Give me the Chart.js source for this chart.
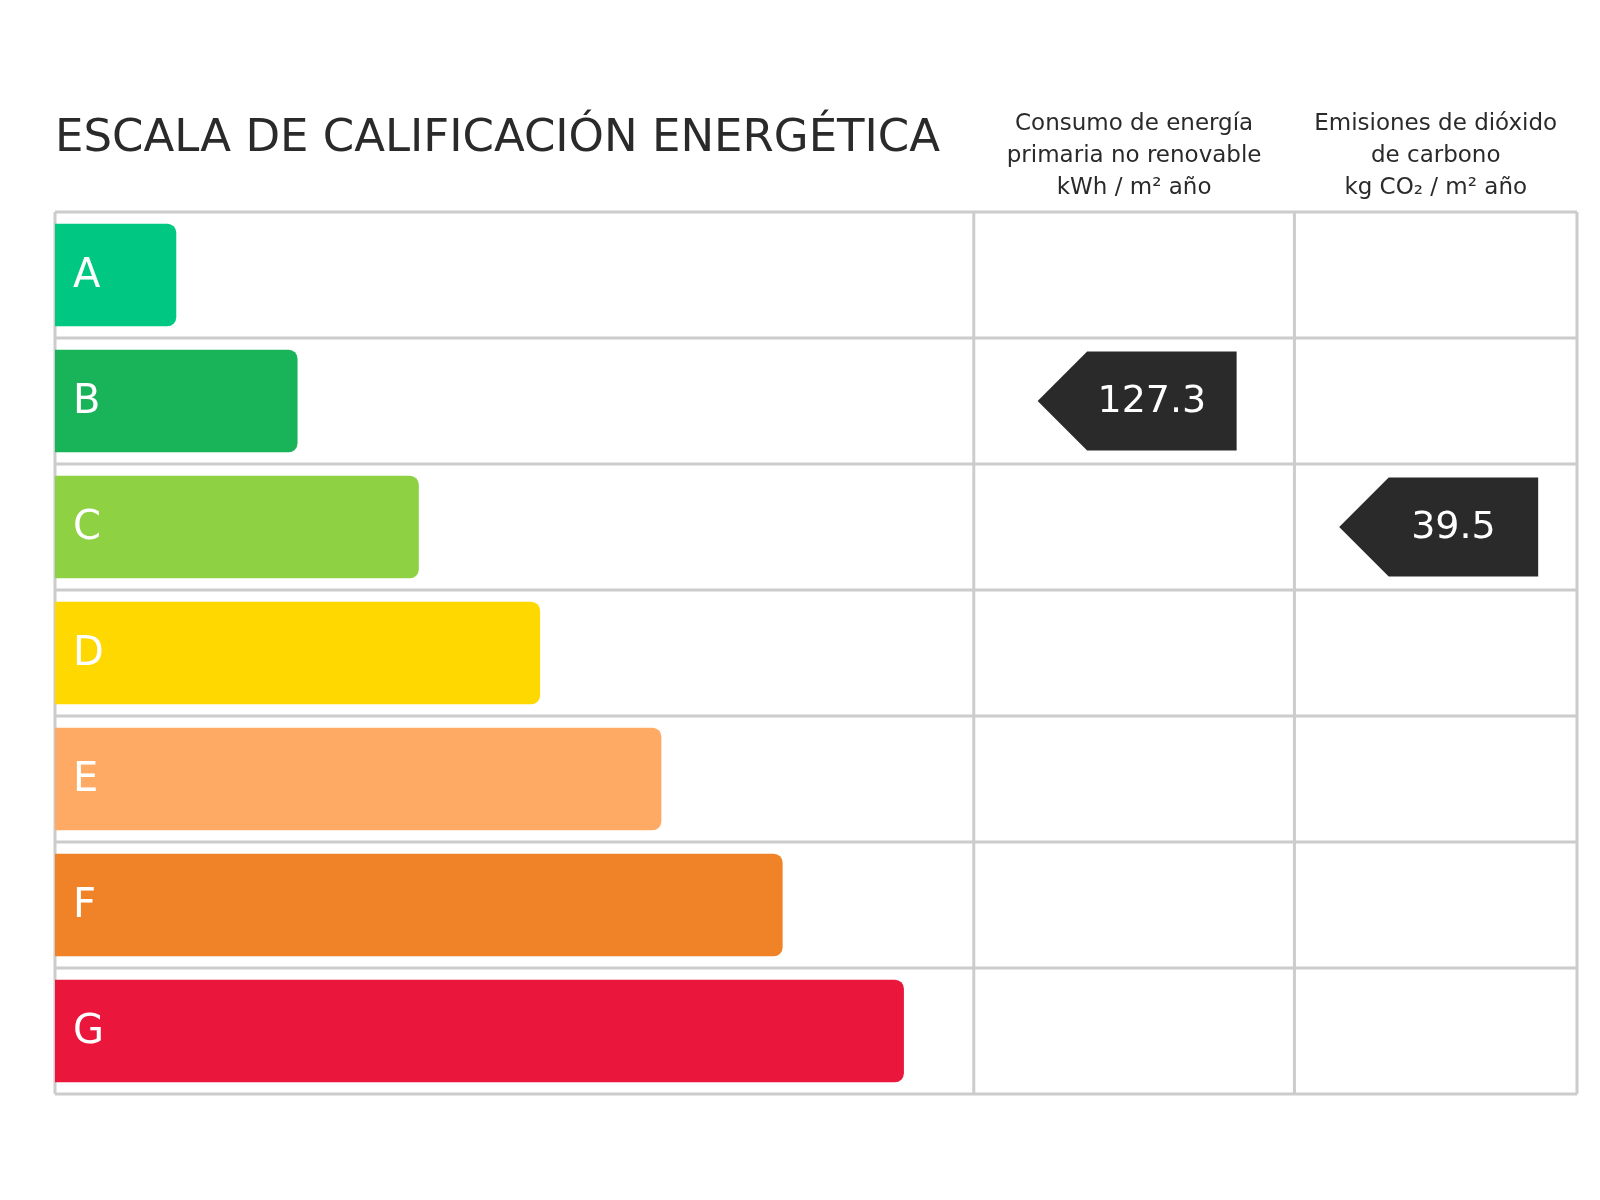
<!DOCTYPE html>
<html lang="es">
<head>
<meta charset="UTF-8">
<title>Escala de calificación energética</title>
<script src="https://cdn.jsdelivr.net/npm/chart.js"></script>
<style>
  body { margin: 0; background: #fff; }
  canvas { display: block; }
</style>
</head>
<body>
<canvas id="chart" width="1600" height="1200"></canvas>
<script>
// datos
const classes = ['A', 'B', 'C', 'D', 'E', 'F', 'G'];
const barLengths = [1, 2, 3, 4, 5, 6, 7];
const barColors = ['#00c882', '#19b45a', '#8ed244', '#ffd800', '#ffaa64', '#f08228', '#eb163c'];
const title = 'ESCALA DE CALIFICACIÓN ENERGÉTICA';
const colHeaders = [
  ['Consumo de energía', 'primaria no renovable', 'kWh / m² año'],
  ['Emisiones de dióxido', 'de carbono', 'kg CO₂ / m² año']
];
const colEdges = [7.576, 10.22, 12.55];   // límites de columnas en unidades del eje x
const ratings = [
  { col: 0, cls: 'B', value: '127.3' },
  { col: 1, cls: 'C', value: '39.5' }
];

const font = '"DejaVu Sans", sans-serif';

const tablePlugin = {
  id: 'table',
  beforeDatasetsDraw(chart) {
    const { ctx, chartArea: a, scales: { x } } = chart;
    ctx.save();
    ctx.strokeStyle = '#cccccc';
    ctx.lineWidth = 3;
    const step = (a.bottom - a.top) / classes.length;
    for (let i = 0; i <= classes.length; i++) {
      const yy = a.top + i * step;
      ctx.beginPath(); ctx.moveTo(a.left, yy); ctx.lineTo(a.right, yy); ctx.stroke();
    }
    [0, ...colEdges].forEach(v => {
      const xx = x.getPixelForValue(v);
      ctx.beginPath(); ctx.moveTo(xx, a.top); ctx.lineTo(xx, a.bottom); ctx.stroke();
    });
    ctx.restore();
  },
  afterDatasetsDraw(chart) {
    const { ctx, chartArea: a, scales: { x, y } } = chart;
    ctx.save();
    // letras
    ctx.fillStyle = '#fff';
    ctx.font = '40px ' + font;
    ctx.textBaseline = 'middle';
    classes.forEach(c => ctx.fillText(c, a.left + 18, y.getPixelForValue(c) + 2));
    // flechas
    ratings.forEach(r => {
      const lx = x.getPixelForValue(colEdges[r.col]);
      const rx = x.getPixelForValue(colEdges[r.col + 1]);
      const cy = y.getPixelForValue(r.cls);
      const h = 99, w = 199;
      const mid = (lx + rx) / 2 + 3;
      const x0 = mid - w / 2, x1 = mid + w / 2;
      ctx.fillStyle = '#2a2a2a';
      ctx.beginPath();
      ctx.moveTo(x0, cy);
      ctx.lineTo(x0 + h / 2, cy - h / 2);
      ctx.lineTo(x1, cy - h / 2);
      ctx.lineTo(x1, cy + h / 2);
      ctx.lineTo(x0 + h / 2, cy + h / 2);
      ctx.closePath();
      ctx.fill();
      ctx.fillStyle = '#fff';
      ctx.font = '38px ' + font;
      ctx.textAlign = 'center';
      ctx.fillText(r.value, (x0 + h / 2 + x1) / 2 - 10, cy + 1);
      ctx.textAlign = 'left';
    });
    // títulos
    ctx.fillStyle = '#2a2a2a';
    ctx.font = '45px ' + font;
    ctx.textBaseline = 'alphabetic';
    ctx.fillText(title, a.left, 151);
    ctx.font = '23px ' + font;
    ctx.textAlign = 'center';
    colHeaders.forEach((lines, i) => {
      const mid = (x.getPixelForValue(colEdges[i]) + x.getPixelForValue(colEdges[i + 1])) / 2;
      lines.forEach((t, j) => ctx.fillText(t, mid, 130 + j * 32));
    });
    ctx.restore();
  }
};

new Chart(document.getElementById('chart'), {
  type: 'bar',
  data: {
    labels: classes,
    datasets: [{
      data: barLengths,
      backgroundColor: barColors,
      borderRadius: { topRight: 9, bottomRight: 9 },
      borderSkipped: 'left',
      barPercentage: 0.814,
      categoryPercentage: 1
    }]
  },
  options: {
    indexAxis: 'y',
    responsive: false,
    animation: false,
    layout: { padding: { left: 55, right: 23, top: 212, bottom: 106 } },
    plugins: { legend: { display: false }, tooltip: { enabled: false } },
    scales: {
      x: { display: false, min: 0, max: colEdges[2] },
      y: { display: false }
    }
  },
  plugins: [tablePlugin]
});
</script>
</body>
</html>
